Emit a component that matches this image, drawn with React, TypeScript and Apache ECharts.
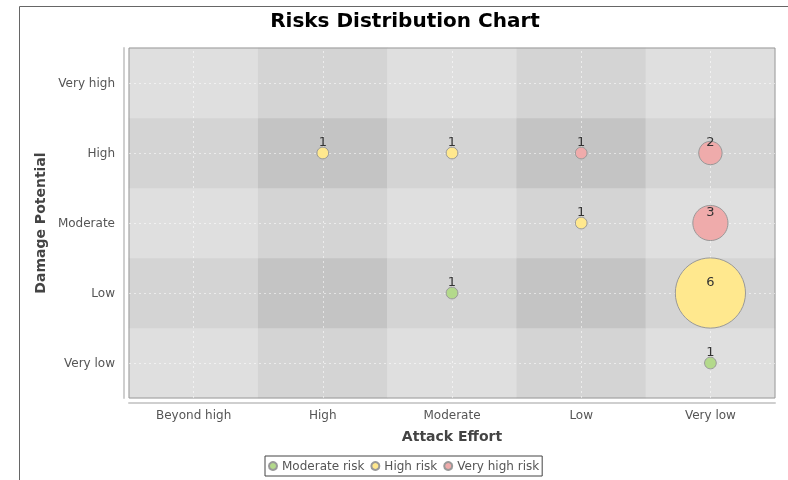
import React, { useEffect, useRef } from 'react';
import * as echarts from 'echarts';

const FONT = 'DejaVu Sans';

const effortCategories = ['Beyond high', 'High', 'Moderate', 'Low', 'Very low'];
const damageCategories = ['Very low', 'Low', 'Moderate', 'High', 'Very high'];

// [attack effort, damage potential, number of risks]
const moderateRisk = [
  ['Moderate', 'Low', 1],
  ['Very low', 'Very low', 1],
];
const highRisk = [
  ['High', 'High', 1],
  ['Moderate', 'High', 1],
  ['Low', 'Moderate', 1],
  ['Very low', 'Low', 6],
];
const veryHighRisk = [
  ['Low', 'High', 1],
  ['Very low', 'High', 2],
  ['Very low', 'Moderate', 3],
];

// background shade level of each cell, rows from "Very low" (bottom) to "Very high" (top)
const cellShade = [
  [0, 1, 0, 1, 0],
  [1, 2, 1, 2, 1],
  [0, 1, 0, 1, 0],
  [1, 2, 1, 2, 1],
  [0, 1, 0, 1, 0],
];
const shadeColors = ['#dfdfdf', '#d4d4d4', '#c4c4c4'];

export default function App() {
  const ref = useRef<HTMLDivElement>(null);

  useEffect(() => {
    const chart = echarts.init(ref.current!, null, { renderer: 'svg' });

    const heatData: number[][] = [];
    cellShade.forEach((row, yi) => row.forEach((lvl, xi) => heatData.push([xi, yi, lvl])));

    const bubble = (name: string, data: any[], color: string) => ({
      type: 'scatter',
      name,
      data,
      z: 10,
      symbolSize: (v: any) => v[2] * 11.7,
      itemStyle: { color, borderColor: '#999', borderWidth: 1, opacity: 1 },
      label: {
        show: true,
        position: 'inside',
        offset: [0, -12],
        formatter: (p: any) => String(p.value[2]),
        color: '#333',
        fontSize: 13,
        fontFamily: FONT,
      },
      emphasis: { disabled: true },
    });

    chart.setOption({
      animation: false,
      title: {
        text: 'Risks Distribution Chart',
        left: 405,
        top: 10,
        padding: 0,
        textAlign: 'center',
        textStyle: { fontSize: 20, fontWeight: 'bold', color: '#000', fontFamily: FONT },
      },
      graphic: [
        {
          type: 'rect',
          silent: true,
          shape: { x: 19.5, y: 6.5, width: 1000, height: 1000 },
          style: { fill: 'none', stroke: '#666', lineWidth: 1 },
        },
      ],
      legend: {
        left: 265,
        top: 456,
        orient: 'horizontal',
        icon: 'circle',
        itemWidth: 8,
        itemHeight: 8,
        itemGap: 6,
        padding: [4, 3, 4, 3],
        borderColor: '#444',
        borderWidth: 1,
        textStyle: { fontSize: 12, color: '#555', fontFamily: FONT },
        data: ['Moderate risk', 'High risk', 'Very high risk'],
      },
      visualMap: {
        type: 'piecewise',
        show: false,
        seriesIndex: 0,
        dimension: 2,
        pieces: shadeColors.map((c, i) => ({ value: i, color: c })),
      },
      grid: {
        left: 129,
        top: 48,
        width: 646,
        height: 350,
        show: true,
        z: 3,
        backgroundColor: 'transparent',
        borderColor: '#999',
        borderWidth: 1,
      },
      xAxis: {
        type: 'category',
        data: effortCategories,
        offset: 5,
        axisLine: { lineStyle: { color: '#cfcfcf', width: 2 } },
        axisTick: { alignWithLabel: true, length: 3, lineStyle: { color: '#aaa' } },
        axisLabel: { color: '#555', fontSize: 12, margin: 6, fontFamily: FONT },
        splitLine: { show: false },
        name: 'Attack Effort',
        nameLocation: 'middle',
        nameGap: 26,
        nameTextStyle: { fontWeight: 'bold', fontSize: 14, color: '#444', fontFamily: FONT },
      },
      yAxis: {
        type: 'category',
        data: damageCategories,
        offset: 5,
        axisLine: { lineStyle: { color: '#cfcfcf', width: 2 } },
        axisTick: { alignWithLabel: true, length: 3, lineStyle: { color: '#aaa' } },
        axisLabel: { color: '#555', fontSize: 12, margin: 9, fontFamily: FONT },
        splitLine: { show: false },
        name: 'Damage Potential',
        nameLocation: 'middle',
        nameGap: 76,
        nameRotate: 90,
        nameTextStyle: { fontWeight: 'bold', fontSize: 14, color: '#444', fontFamily: FONT },
      },
      series: [
        {
          type: 'heatmap',
          data: heatData,
          silent: true,
          z: 1,
          itemStyle: { borderWidth: 0 },
          emphasis: { disabled: true },
          markLine: {
            silent: true,
            symbol: ['none', 'none'],
            label: { show: false },
            lineStyle: { color: 'rgba(255,255,255,0.55)', type: [2, 3], width: 1 },
            data: [
              ...effortCategories.map((c) => ({ xAxis: c })),
              ...damageCategories.map((c) => ({ yAxis: c })),
            ],
          },
        },
        bubble('Moderate risk', moderateRisk, '#b3d98b'),
        bubble('High risk', highRisk, '#ffe88e'),
        bubble('Very high risk', veryHighRisk, '#efabab'),
      ],
    });

    return () => chart.dispose();
  }, []);

  return <div ref={ref} style={{ position: 'fixed', left: 0, top: 0, width: 788, height: 480 }} />;
}
